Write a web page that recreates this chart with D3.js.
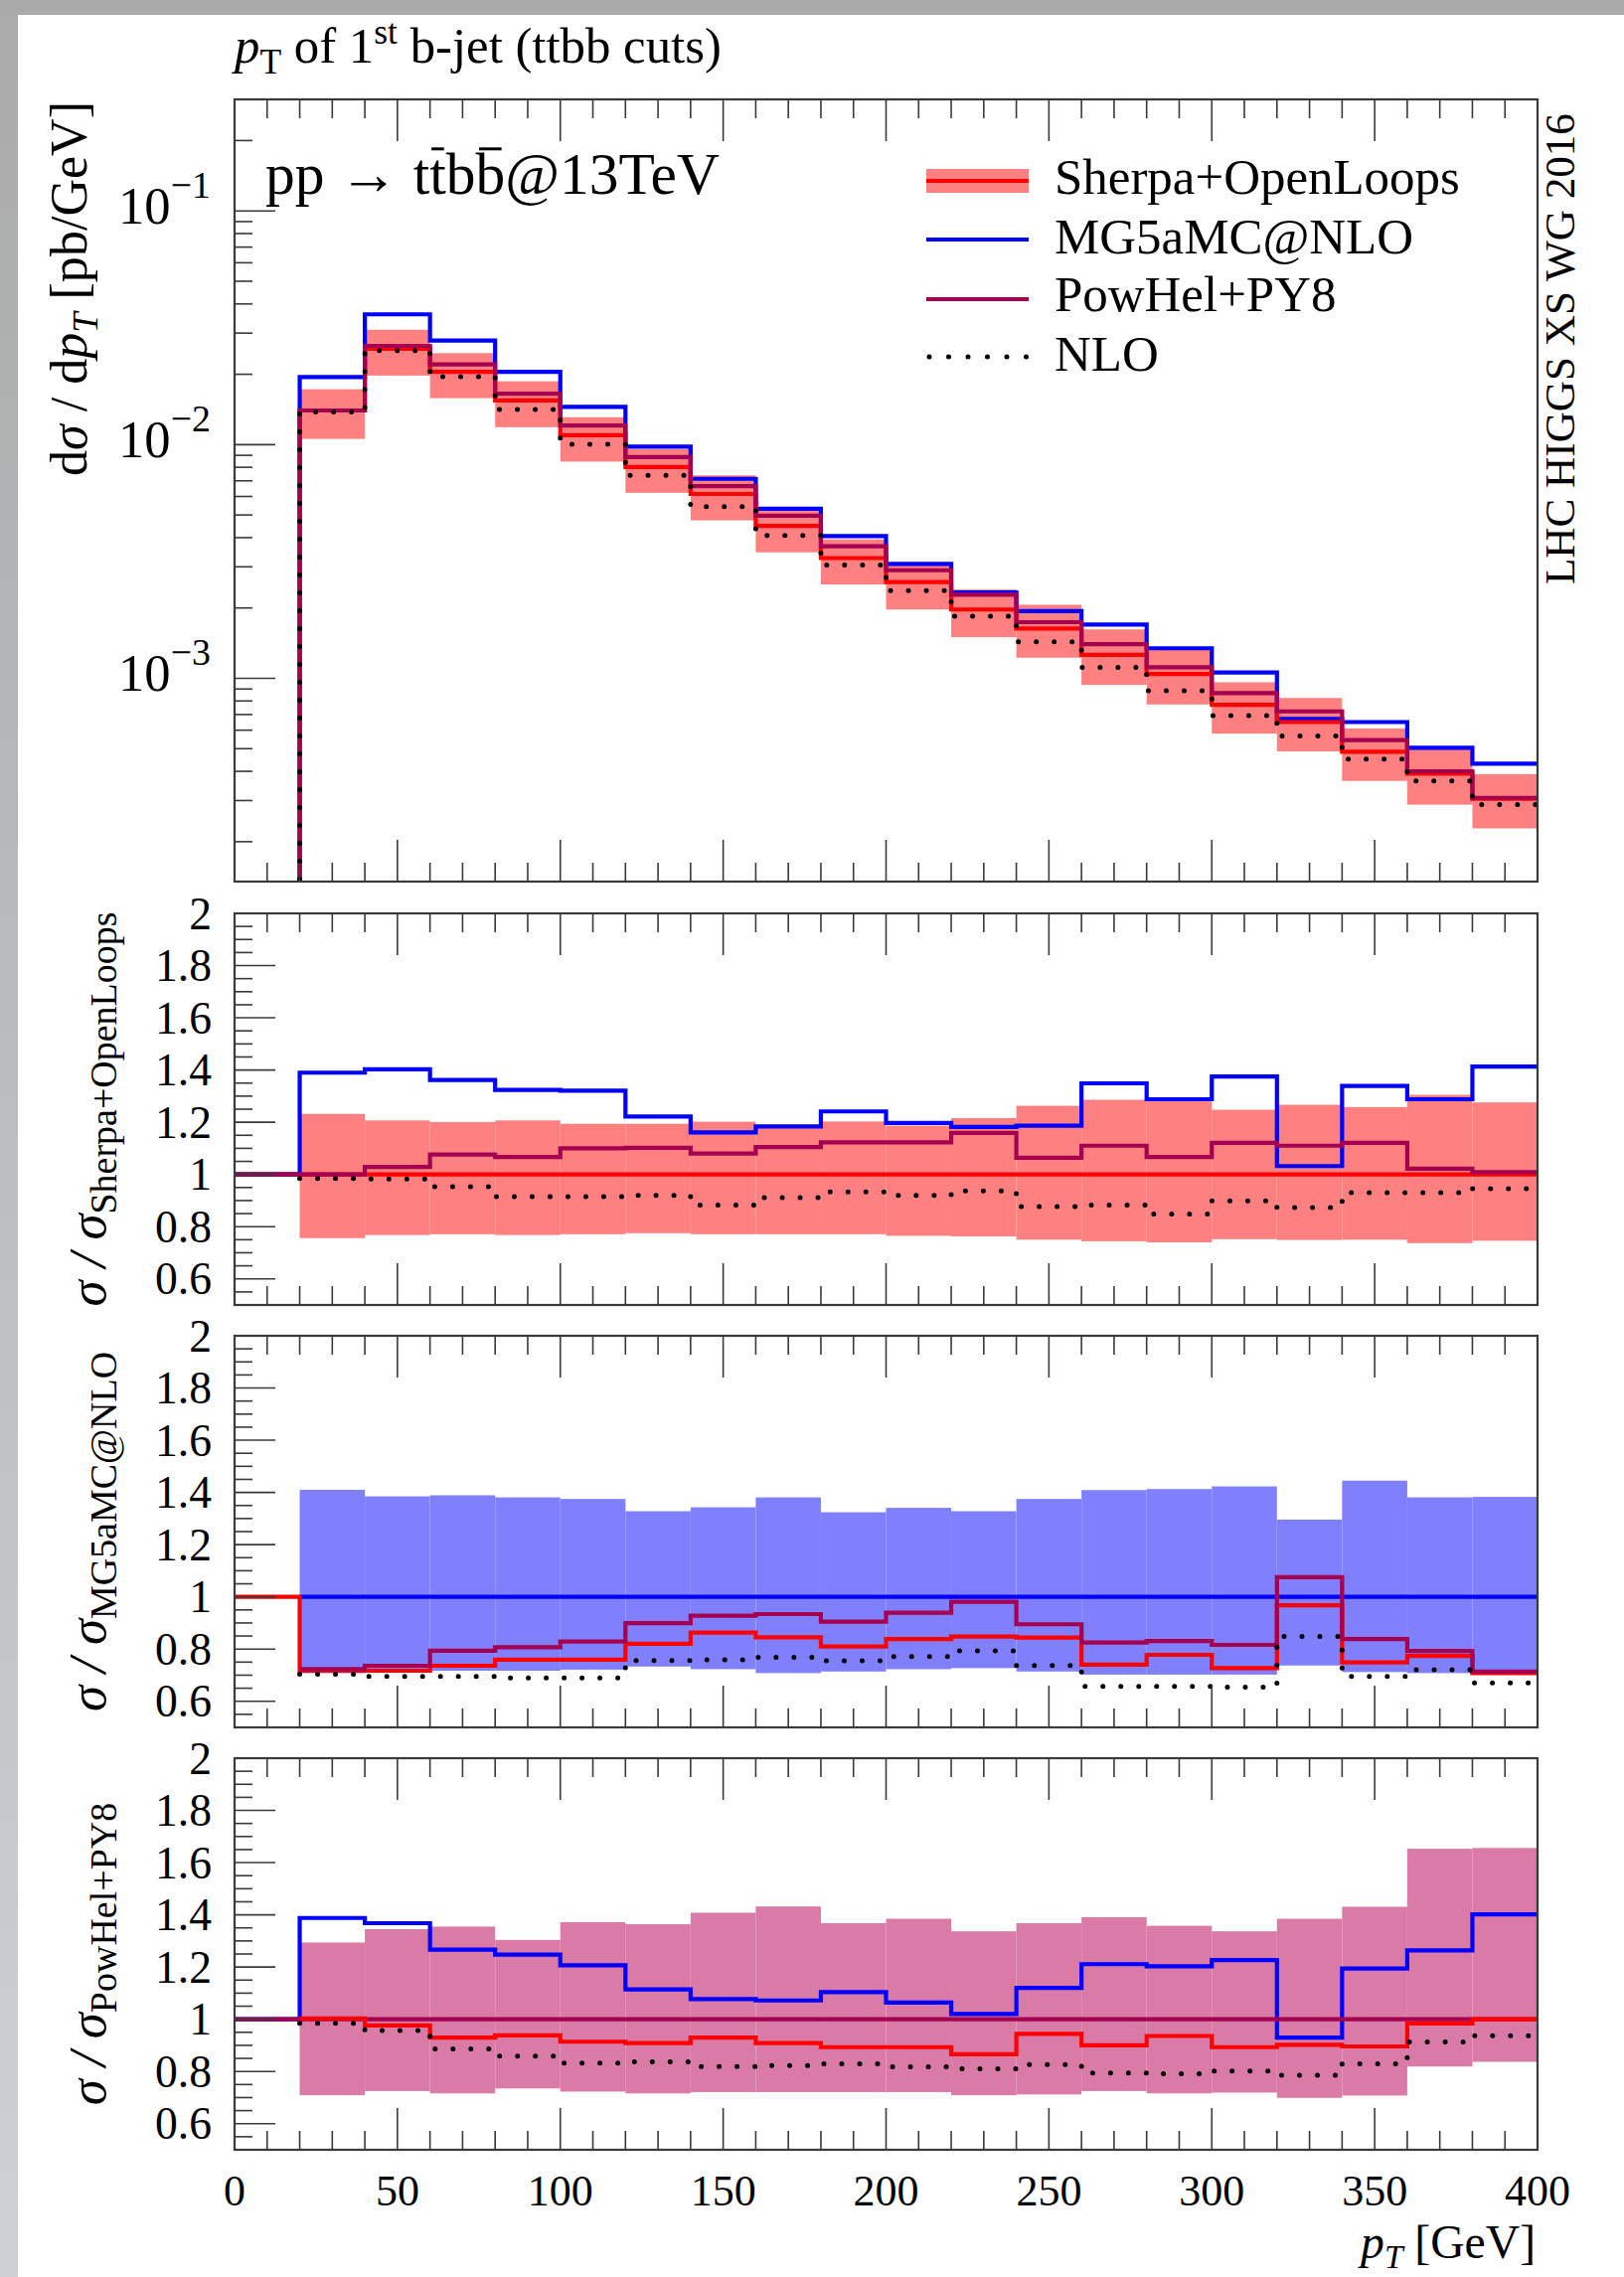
<!DOCTYPE html>
<html><head><meta charset="utf-8">
<script src="https://cdn.jsdelivr.net/npm/d3@7"></script>
<style>
body{margin:0;background:#fff}
svg{display:block}
text{font-family:"Liberation Serif",serif;fill:#000}
</style>
</head><body>
<svg id="chart" width="1634" height="2291"></svg>
<script>
// ---------------- data ----------------
const binLo = [0,20,40,60,80,100,120,140,160,180,200,220,240,260,280,300,320,340,360,380];
const binWidth = 20;
const xTicksMajor = [0,50,100,150,200,250,300,350,400];
const xTickLabels = ["0","50","100","150","200","250","300","350","400"];
const ratioTicksMajor = [0.6,0.8,1,1.2,1.4,1.6,1.8,2];
const ratioTickLabels = ["0.6","0.8","1","1.2","1.4","1.6","1.8","2"];
const mainTicksMajor = [1e-3,1e-2,1e-1];
const mainTickExps = ["\u22123","\u22122","\u22121"];

// main panel dsigma/dpT [pb/GeV]
const mainSherpa   = [0,0.0140,0.0257,0.0205,0.01546,0.01097,0.00802,0.00615,0.00449,0.00327,0.00258,0.00197,0.001634,0.00126,0.001044,0.000771,0.00065,0.000485,0.000391,0.000305];
const mainSherpaLo = [null,0.01058,0.01974,0.0158,0.01187,0.00846,0.00622,0.00474,0.00346,0.00252,0.00197,0.0015,0.001226,0.000937,0.000773,0.00058,0.000487,0.000364,0.000288,0.000228];
const mainSherpaHi = [null,0.01725,0.03102,0.02462,0.01866,0.0131,0.00958,0.00739,0.00534,0.00393,0.00306,0.0024,0.002064,0.00162,0.001336,0.000962,0.000824,0.00061,0.00051,0.000389];
const mainMG5      = [0,0.01946,0.0361,0.0279,0.02047,0.01449,0.0098,0.00714,0.00532,0.00406,0.00309,0.00233,0.00194,0.0017,0.001345,0.00106,0.000671,0.00065,0.000504,0.000431];
const mainPowHel   = [0,0.0140,0.02645,0.02206,0.0165,0.01207,0.00884,0.00664,0.00496,0.00367,0.0029,0.00228,0.001739,0.0014,0.001114,0.000864,0.000722,0.000544,0.0004,0.000308];
const mainNLO      = [0,0.01378,0.02526,0.01954,0.01415,0.01004,0.00738,0.00543,0.00409,0.00305,0.00237,0.001846,0.001433,0.001113,0.000885,0.000693,0.000567,0.000451,0.000364,0.000288];

// ratio to Sherpa+OpenLoops
const r1Sherpa = [1,1,1,1,1,1,1,1,1,1,1,1,1,1,1,1,1,1,1,1];
const r1BandLo = [null,0.756,0.768,0.771,0.768,0.771,0.775,0.771,0.771,0.771,0.765,0.763,0.75,0.744,0.74,0.752,0.749,0.75,0.737,0.746];
const r1BandHi = [null,1.232,1.207,1.201,1.207,1.194,1.194,1.202,1.19,1.203,1.187,1.216,1.263,1.286,1.28,1.248,1.267,1.258,1.305,1.276];
const r1MG5    = [1,1.39,1.403,1.362,1.324,1.321,1.222,1.161,1.184,1.2415,1.197,1.182,1.187,1.349,1.288,1.375,1.032,1.339,1.288,1.413];
const r1PowHel = [1,1.0,1.029,1.076,1.067,1.10,1.102,1.08,1.105,1.123,1.123,1.159,1.064,1.11,1.067,1.121,1.11,1.121,1.022,1.009];
const r1NLO    = [null,0.984,0.983,0.953,0.915,0.915,0.92,0.883,0.911,0.933,0.92,0.937,0.877,0.883,0.848,0.899,0.873,0.93,0.93,0.945];

// ratio to MG5aMC@NLO
const r2MG5    = [null,1,1,1,1,1,1,1,1,1,1,1,1,1,1,1,1,1,1,1];
const r2BandLo = [null,0.708,0.714,0.717,0.717,0.721,0.733,0.723,0.708,0.714,0.723,0.727,0.714,0.702,0.702,0.702,0.737,0.712,0.708,0.708];
const r2BandHi = [null,1.41,1.385,1.389,1.381,1.375,1.328,1.343,1.381,1.324,1.341,1.328,1.375,1.409,1.413,1.423,1.296,1.445,1.381,1.383];
const r2Sherpa = [1,0.717,0.717,0.736,0.759,0.759,0.82,0.863,0.845,0.81,0.838,0.848,0.844,0.74,0.778,0.727,0.968,0.749,0.774,0.708];
const r2PowHel = [null,0.723,0.736,0.794,0.807,0.829,0.899,0.928,0.934,0.905,0.939,0.981,0.895,0.825,0.831,0.816,1.075,0.838,0.793,0.714];
const r2NLO    = [null,0.704,0.695,0.695,0.689,0.689,0.756,0.759,0.768,0.755,0.771,0.793,0.737,0.657,0.657,0.654,0.848,0.695,0.721,0.67];

// ratio to PowHel+PY8
const r3PowHel = [1,1,1,1,1,1,1,1,1,1,1,1,1,1,1,1,1,1,1,1];
const r3BandLo = [null,0.709,0.725,0.716,0.735,0.723,0.716,0.721,0.721,0.721,0.721,0.709,0.712,0.725,0.716,0.719,0.699,0.708,0.819,0.837];
const r3BandHi = [null,1.294,1.345,1.355,1.304,1.372,1.364,1.408,1.432,1.368,1.385,1.337,1.368,1.391,1.358,1.337,1.385,1.431,1.653,1.656];
const r3MG5    = [1,1.388,1.368,1.267,1.248,1.207,1.114,1.077,1.072,1.104,1.064,1.02,1.12,1.211,1.203,1.227,0.93,1.194,1.264,1.402];
const r3Sherpa = [null,1.003,0.976,0.93,0.938,0.914,0.909,0.93,0.909,0.893,0.893,0.866,0.944,0.9,0.936,0.893,0.902,0.896,0.984,1.0];
const r3NLO    = [null,0.984,0.957,0.886,0.859,0.832,0.837,0.819,0.823,0.829,0.818,0.81,0.826,0.794,0.791,0.802,0.786,0.829,0.913,0.937];

const legendNames = ["Sherpa+OpenLoops","MG5aMC@NLO","PowHel+PY8","NLO"];

// ---------------- style ----------------
const C = {
  sherpa:"#ff0000", sherpaBand:"#ff8080",
  mg5:"#0000ff", mg5Band:"#8080ff",
  powhel:"#a5004f", powhelBand:"#d97ba6",
  nlo:"#000000", axis:"#3a3a3a"
};
const LW = 4.2;

const svg = d3.select("#chart");
const defs = svg.append("defs");
const grad = defs.append("linearGradient").attr("id","edge").attr("x1",0).attr("y1",0).attr("x2",0).attr("y2",1);
grad.append("stop").attr("offset","0%").attr("stop-color","#a9aaa9");
grad.append("stop").attr("offset","100%").attr("stop-color","#cdd0d5");
svg.append("rect").attr("x",0).attr("y",0).attr("width",1634).attr("height",2291).attr("fill","#fff");
svg.append("rect").attr("x",0).attr("y",0).attr("width",18).attr("height",2291).attr("fill","url(#edge)");
svg.append("rect").attr("x",0).attr("y",0).attr("width",1634).attr("height",15).attr("fill","#a9aaa9");

const X0 = 236, X1 = 1547;
const x = d3.scaleLinear().domain([0,400]).range([X0,X1]);

const panels = {
  main:{top:100,bottom:887},
  r1:{top:919,bottom:1313},
  r2:{top:1344,bottom:1738},
  r3:{top:1769,bottom:2163}
};
const yMain = d3.scaleLog().domain([1.35e-4,0.3]).range([panels.main.bottom,panels.main.top]);
function yRatio(p){ return d3.scaleLinear().domain([0.5,2]).range([p.bottom,p.top]); }
const y1 = yRatio(panels.r1), y2 = yRatio(panels.r2), y3 = yRatio(panels.r3);

Object.entries(panels).forEach(([k,p])=>{
  defs.append("clipPath").attr("id","clip-"+k).append("rect")
    .attr("x",X0).attr("y",p.top).attr("width",X1-X0).attr("height",p.bottom-p.top);
});

function stepPath(vals, yS, floorY){
  let d = "", open = false;
  vals.forEach((v,i)=>{
    if(v===null||v===undefined){ open=false; return; }
    const yy = (v<=0) ? floorY : yS(v);
    const xa = x(binLo[i]), xb = x(binLo[i]+binWidth);
    if(!open){ d += `M${xa},${yy}`; open = true; }
    else d += `L${xa},${yy}`;
    d += `L${xb},${yy}`;
  });
  return d;
}
function drawBand(g, lo, hi, yS, color){
  g.selectAll(null).data(binLo.map((b,i)=>({b,lo:lo[i],hi:hi[i]})).filter(d=>d.lo!==null))
    .enter().append("rect")
    .attr("x",d=>x(d.b)).attr("width",d=>x(d.b+binWidth)-x(d.b))
    .attr("y",d=>yS(d.hi)).attr("height",d=>yS(d.lo)-yS(d.hi))
    .attr("fill",color).attr("stroke","none");
}
function drawLine(g, vals, yS, color, floorY){
  g.append("path").attr("d",stepPath(vals,yS,floorY)).attr("fill","none")
    .attr("stroke",color).attr("stroke-width",LW).attr("stroke-linejoin","miter");
}
function drawDots(g, vals, yS, floorY){
  g.append("path").attr("d",stepPath(vals,yS,floorY)).attr("fill","none")
    .attr("stroke",C.nlo).attr("stroke-width",5).attr("stroke-linecap","round")
    .attr("stroke-dasharray","0 18");
}

function drawFrame(p, yTicks){
  const g = svg.append("g");
  const xMinor = d3.range(10,400,10).filter(v=>v%50!==0);
  const xMajor = [50,100,150,200,250,300,350];
  const tick = (x1,y1,x2,y2)=>g.append("line").attr("x1",x1).attr("y1",y1).attr("x2",x2).attr("y2",y2)
      .attr("stroke",C.axis).attr("stroke-width",1.6);
  xMinor.forEach(v=>{ tick(x(v),p.top,x(v),p.top+19); tick(x(v),p.bottom,x(v),p.bottom-19); });
  xMajor.forEach(v=>{ tick(x(v),p.top,x(v),p.top+42); tick(x(v),p.bottom,x(v),p.bottom-42); });
  yTicks.minor.forEach(yy=>tick(X0,yy,X0+18,yy));
  yTicks.major.forEach(yy=>tick(X0,yy,X0+41,yy));
  g.append("rect").attr("x",X0).attr("y",p.top).attr("width",X1-X0).attr("height",p.bottom-p.top)
    .attr("fill","none").attr("stroke",C.axis).attr("stroke-width",2.2);
}

function label(parent, o){
  const g = parent.append("g");
  const t = g.append("text").attr("font-size",o.fs).attr("text-anchor",o.anchor||"start");
  o.build(t, o.fs, g);
  let k = 1;
  if(o.target){ k = o.target / t.node().getComputedTextLength(); }
  g.attr("transform",`translate(${o.x},${o.y})${o.rotate?" rotate(-90)":""} scale(${k})`);
  if(o.after) o.after(t, o.fs, g);
  return k;
}
function ts(t, txt, opt={}){
  const s = t.append("tspan").text(txt);
  Object.entries(opt).forEach(([k,v])=>s.attr(k,v));
  return s;
}

// ---------------- main panel ----------------
{
  const p = panels.main;
  const floorY = p.bottom + 40;
  const g = svg.append("g").attr("clip-path","url(#clip-main)");
  drawBand(g, mainSherpaLo, mainSherpaHi, yMain, C.sherpaBand);
  drawLine(g, mainMG5, yMain, C.mg5, floorY);
  drawLine(g, mainSherpa, yMain, C.sherpa, floorY);
  drawLine(g, mainPowHel, yMain, C.powhel, floorY);
  drawDots(g, mainNLO, yMain, floorY);
  const minor = [];
  [-4,-3,-2,-1].forEach(e=>{ for(let m=2;m<=9;m++){ const v=m*Math.pow(10,e); if(v>=1.35e-4 && v<=0.3) minor.push(yMain(v)); } });
  drawFrame(p, {minor, major: mainTicksMajor.map(v=>yMain(v))});
}

// ---------------- ratio panels ----------------
function ratioPanel(key, yS, band, bandColor, series, dots){
  const p = panels[key];
  const g = svg.append("g").attr("clip-path",`url(#clip-${key})`);
  drawBand(g, band[0], band[1], yS, bandColor);
  series.forEach(s=>drawLine(g, s.vals, yS, s.color, p.bottom+40));
  drawDots(g, dots, yS, p.bottom+40);
  const minor = d3.range(11,40).map(i=>i*0.05).filter(v=>Math.abs(v*5-Math.round(v*5))>1e-6).map(v=>yS(v));
  drawFrame(p, {minor, major: ratioTicksMajor.filter(v=>v<2).map(v=>yS(v))});
}
ratioPanel("r1", y1, [r1BandLo,r1BandHi], C.sherpaBand,
  [{vals:r1Sherpa,color:C.sherpa},{vals:r1MG5,color:C.mg5},{vals:r1PowHel,color:C.powhel}], r1NLO);
ratioPanel("r2", y2, [r2BandLo,r2BandHi], C.mg5Band,
  [{vals:r2MG5,color:C.mg5},{vals:r2Sherpa,color:C.sherpa},{vals:r2PowHel,color:C.powhel}], r2NLO);
ratioPanel("r3", y3, [r3BandLo,r3BandHi], C.powhelBand,
  [{vals:r3MG5,color:C.mg5},{vals:r3PowHel,color:C.powhel},{vals:r3Sherpa,color:C.sherpa}], r3NLO);

// ---------------- texts ----------------
const T = svg.append("g");

// title
label(T,{x:236,y:63,fs:34,target:490,build:(t,fs)=>{
  ts(t,"p",{"font-style":"italic"});
  ts(t,"T",{"font-size":fs*0.7,dy:fs*0.22});
  ts(t," of 1",{dy:-fs*0.22});
  ts(t,"st",{"font-size":fs*0.7,dy:-fs*0.38});
  ts(t," b-jet (ttbb cuts)",{dy:fs*0.38});
}});

// process annotation (bars over anti-quarks drawn as lines above the glyphs)
label(T,{x:267,y:195,fs:50,target:457,
  build:(t)=>{ ts(t,"pp \u2192 ttbb@13TeV"); },
  after:(t,fs,g)=>{
    [6,8].forEach(ci=>{
      const e = t.node().getExtentOfChar(ci);
      g.append("line").attr("x1",e.x+e.width*0.12).attr("x2",e.x+e.width*0.88)
        .attr("y1",-fs*0.76).attr("y2",-fs*0.76).attr("stroke","#000").attr("stroke-width",fs*0.05);
    });
  }});

// legend
{
  const lx0 = 932, lx1 = 1035;
  const rows = [182,241,301,359];
  T.append("rect").attr("x",lx0).attr("y",170).attr("width",lx1-lx0).attr("height",24).attr("fill",C.sherpaBand);
  T.append("line").attr("x1",lx0).attr("x2",lx1).attr("y1",rows[0]).attr("y2",rows[0]).attr("stroke",C.sherpa).attr("stroke-width",LW);
  T.append("line").attr("x1",lx0).attr("x2",lx1).attr("y1",rows[1]).attr("y2",rows[1]).attr("stroke",C.mg5).attr("stroke-width",LW);
  T.append("line").attr("x1",lx0).attr("x2",lx1).attr("y1",rows[2]).attr("y2",rows[2]).attr("stroke",C.powhel).attr("stroke-width",LW);
  T.append("line").attr("x1",lx0+3).attr("x2",lx1).attr("y1",rows[3]).attr("y2",rows[3]).attr("stroke",C.nlo)
    .attr("stroke-width",5).attr("stroke-linecap","round").attr("stroke-dasharray","0 19.5");
  const k = label(T,{x:1061,y:195,fs:42,target:408,build:(t)=>ts(t,legendNames[0])});
  const base = [195,255,313,373];
  for(let i=1;i<4;i++) label(T,{x:1061,y:base[i],fs:42*k,build:(t)=>ts(t,legendNames[i])});
}

// LHC HIGGS XS WG 2016
label(T,{x:1584,y:588,fs:34,rotate:true,target:474,build:(t)=>ts(t,"LHC HIGGS XS WG 2016")});

// main y label
label(T,{x:87,y:102,fs:42,rotate:true,anchor:"end",target:377,build:(t,fs)=>{
  ts(t,"d");
  ts(t,"\u03c3",{"font-style":"italic"});
  ts(t," / d");
  ts(t,"p",{"font-style":"italic"});
  ts(t,"T",{"font-style":"italic","font-size":fs*0.7,dy:fs*0.22});
  ts(t,"  [pb/GeV]",{dy:-fs*0.22});
}});

// ratio y labels
const ratioSubs = ["Sherpa+OpenLoops","MG5aMC@NLO","PowHel+PY8"];
let kr = null;
["r1","r2","r3"].forEach((key,i)=>{
  const p = panels[key];
  const build = (t,fs)=>{
    ts(t,"\u03c3 / \u03c3",{"font-style":"italic"});
    ts(t,ratioSubs[i],{"font-size":fs*0.72,dy:fs*0.2});
  };
  if(i===0) kr = label(T,{x:106,y:(p.top+p.bottom)/2,fs:44,rotate:true,anchor:"middle",target:397,build});
  else label(T,{x:106,y:(p.top+p.bottom)/2,fs:44*kr,rotate:true,anchor:"middle",build});
});

// ratio y tick labels
{
  const probe = T.append("text").attr("font-size",40).text("1.8");
  const fsR = 40*57/probe.node().getComputedTextLength();
  probe.remove();
  [["r1",y1],["r2",y2],["r3",y3]].forEach(([key,yS])=>{
    T.append("g").selectAll("text").data(ratioTicksMajor).enter().append("text")
      .attr("x",213).attr("y",d=>yS(d)).attr("text-anchor","end").attr("dominant-baseline","central")
      .attr("font-size",fsR).text((d,i)=>ratioTickLabels[i]);
  });
}

// main y tick labels
mainTicksMajor.forEach((v,i)=>{
  label(T,{x:212,y:yMain(v)+13,fs:30,anchor:"end",target:93,build:(t,fs)=>{
    ts(t,"10");
    ts(t,mainTickExps[i],{"font-size":fs*0.72,dy:-fs*0.5});
  }});
});

// x tick labels
{
  const probe = T.append("text").attr("font-size",40).text("100");
  const fsX = 40*66/probe.node().getComputedTextLength();
  probe.remove();
  T.append("g").selectAll("text").data(xTicksMajor).enter().append("text")
    .attr("x",d=>x(d)).attr("y",2204).attr("text-anchor","middle").attr("dominant-baseline","central")
    .attr("font-size",fsX).text((d,i)=>xTickLabels[i]);
}

// x label
label(T,{x:1545,y:2272,fs:40,anchor:"end",target:176,build:(t,fs)=>{
  ts(t,"p",{"font-style":"italic"});
  ts(t,"T",{"font-style":"italic","font-size":fs*0.7,dy:fs*0.22});
  ts(t," [GeV]",{dy:-fs*0.22});
}});
</script>
</body></html>
